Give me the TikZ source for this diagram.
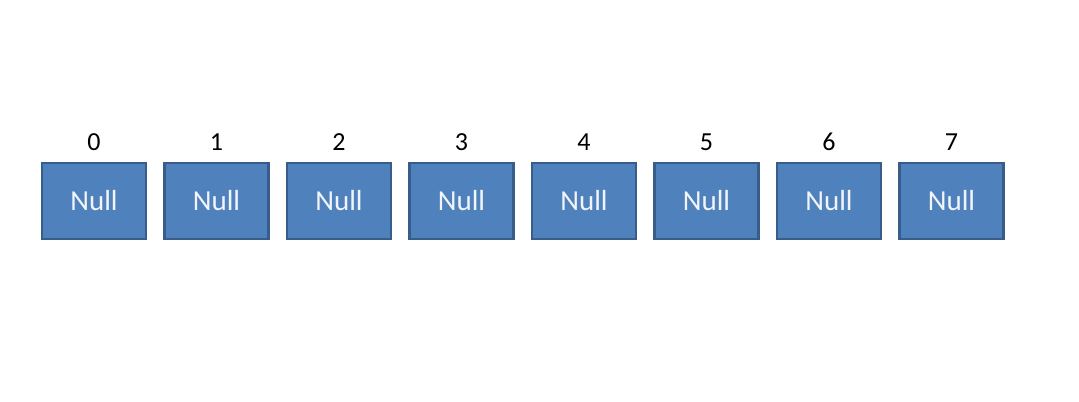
\documentclass[tikz,border=0pt]{standalone}
\usepackage{fontspec}
\setmainfont{Carlito}
\usetikzlibrary{positioning}
\definecolor{cellblue}{HTML}{4F81BD}
\definecolor{celledge}{HTML}{385D8A}
\tikzset{
  cell/.style={draw=celledge, fill=cellblue, line width=1.3pt, text=white!92!cellblue,
    minimum width=52pt, minimum height=38pt, font=\fontsize{14.5}{16}\selectfont},
  idx/.style={font=\fontsize{13}{15}\selectfont, inner sep=1pt}
}
\begin{document}
\begin{tikzpicture}[x=0.5pt, y=-0.5pt]
	  \useasboundingbox (0,0) rectangle (1079,401);
	  % Cells
	  \node[cell] (C0) at (94,201) {Null};
	  \node[cell] (C1) at (216.5,201) {Null};
	  \node[cell] (C2) at (339,201) {Null};
	  \node[cell] (C3) at (461.5,201) {Null};
	  \node[cell] (C4) at (584,201) {Null};
	  \node[cell] (C5) at (706.5,201) {Null};
	  \node[cell] (C6) at (829,201) {Null};
	  \node[cell] (C7) at (951.5,201) {Null};

	  % Indices
	  \node[idx, above=4.5pt of C0] (I0) {0};
	  \node[idx, above=4.5pt of C1] (I1) {1};
	  \node[idx, above=4.5pt of C2] (I2) {2};
	  \node[idx, above=4.5pt of C3] (I3) {3};
	  \node[idx, above=4.5pt of C4] (I4) {4};
	  \node[idx, above=4.5pt of C5] (I5) {5};
	  \node[idx, above=4.5pt of C6] (I6) {6};
	  \node[idx, above=4.5pt of C7] (I7) {7};
	\end{tikzpicture}
\end{document}
